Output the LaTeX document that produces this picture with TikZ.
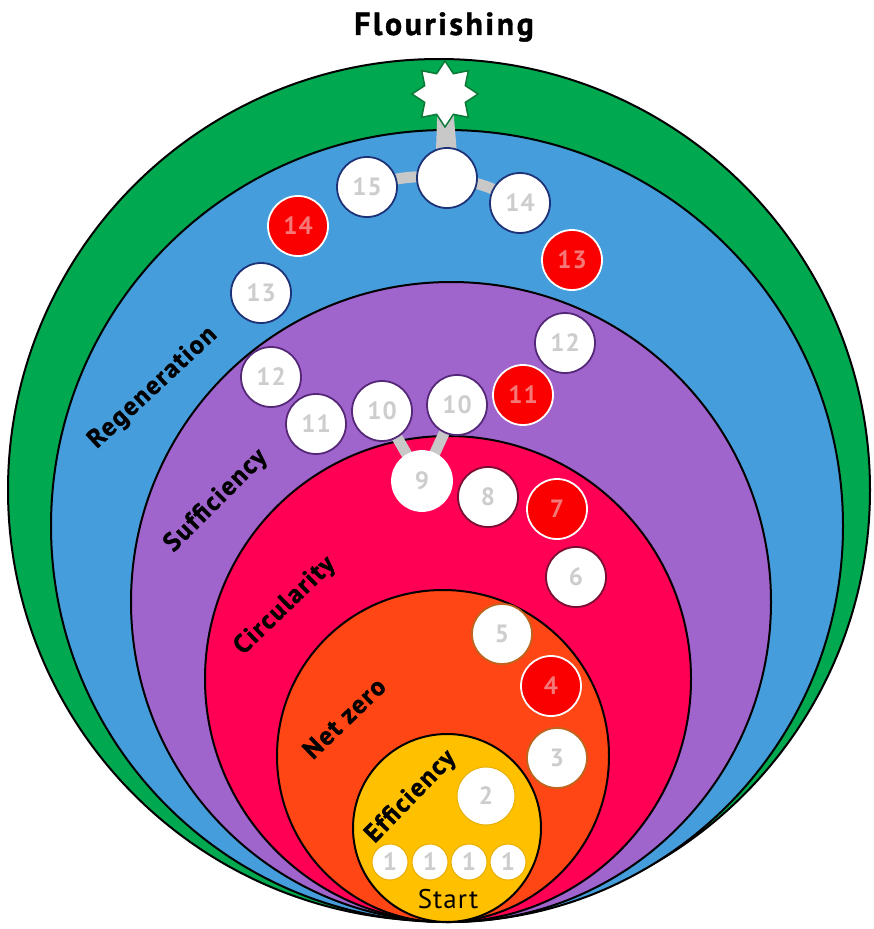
\documentclass[tikz,border=0pt]{standalone}
\usepackage{fontspec}
\setmainfont{PT Sans}
\newfontfamily\labfont[LetterSpace=6,BoldFeatures={FakeBold=1.2}]{PT Sans}
\newfontfamily\titfont[LetterSpace=8,BoldFeatures={FakeBold=1.2}]{PT Sans}
\newfontfamily\numfont[LetterSpace=4]{PT Sans}
\usetikzlibrary{shapes.geometric,calc}
\pgfdeclarelayer{back}
\pgfdeclarelayer{mid}
\pgfsetlayers{back,mid,main}
\definecolor{cgreen}{RGB}{0,168,80}
\definecolor{cblue}{RGB}{70,157,219}
\definecolor{cpurple}{RGB}{160,100,205}
\definecolor{cpink}{RGB}{255,0,85}
\definecolor{corange}{RGB}{255,70,20}
\definecolor{cyellow}{RGB}{255,192,0}
\definecolor{dotred}{RGB}{250,0,0}
\definecolor{numgray}{RGB}{205,205,205}
\definecolor{numred}{RGB}{245,120,120}
\definecolor{conngray}{RGB}{200,200,200}
\definecolor{navy}{RGB}{30,50,120}
\definecolor{dpurple}{RGB}{85,40,120}
\definecolor{maroon}{RGB}{120,15,50}
\definecolor{brownish}{RGB}{190,100,30}
\definecolor{gold}{RGB}{230,175,0}
\definecolor{stargreen}{RGB}{10,120,55}
\begin{document}
\begin{tikzpicture}[x=1pt,y=1pt,
  ring/.style={draw=black,line width=2pt},
  dot/.style={circle,minimum size=60pt,inner sep=0pt,fill=white,line width=1.8pt,
    font=\numfont\bfseries\fontsize{25}{27}\selectfont,text=numgray},
  bdot/.style={dot,draw=navy},
  pdot/.style={dot,draw=dpurple},
  mdot/.style={dot,draw=maroon},
  odot/.style={dot,draw=brownish},
  ydot/.style={dot,draw=gold,line width=1pt},
  reddot/.style={dot,fill=dotred,draw=white,text=numred},
  conn/.style={draw=conngray,line width=11pt},
  lab/.style={font=\labfont\bfseries\fontsize{26}{28}\selectfont,text=black}]
\useasboundingbox (0,0) rectangle (874,-929);
\begin{pgfonlayer}{back}
\fill[white] (0,0) rectangle (874,-929);
\filldraw[ring,fill=cgreen] (439,-490) circle (431);
\filldraw[ring,fill=cblue] (447,-526) circle (396);
\filldraw[ring,fill=cpurple] (451,-602) circle (320);
\filldraw[ring,fill=cpink] (448,-679) circle (243);
\filldraw[ring,fill=corange] (443,-756) circle (166);
\filldraw[ring,fill=cyellow] (447,-828) circle (94);
\end{pgfonlayer}

\node[font=\titfont\bfseries\fontsize{32}{34}\selectfont] (title) at (444,-27) {Flourishing};

\node[star,star points=8,star point ratio=1.5,minimum size=66pt,inner sep=0pt,
  fill=white,draw=stargreen,line width=1.5pt] (star) at (445,-94) {};

\node[bdot] (top) at (447,-178) {};
\node[bdot] (n15) at (367,-187) {15};
\node[bdot] (n14) at (520,-203) {14};
\node[reddot] (r14) at (298,-226) {14};
\node[reddot] (r13) at (572,-260) {13};
\node[bdot] (n13) at (261,-293) {13};
\node[pdot] (n12b) at (565,-343) {12};
\node[pdot] (n12a) at (271,-377) {12};
\node[pdot] (n11) at (316,-424) {11};
\node[pdot] (n10a) at (382,-411) {10};
\node[pdot] (n10b) at (457,-405) {10};
\node[reddot] (r11) at (523,-395) {11};
\node[mdot,draw=white] (n9) at (422,-481) {9};
\node[mdot] (n8) at (488,-497) {8};
\node[reddot] (r7) at (557,-509) {7};
\node[mdot] (n6) at (576,-577) {6};
\node[odot] (n5) at (502,-634) {5};
\node[reddot] (r4) at (551,-686) {4};
\node[odot] (n3) at (557,-758) {3};
\node[ydot,minimum size=58pt] (n2) at (486,-796) {2};
\node[ydot,minimum size=36pt] (a1) at (390,-862) {1};
\node[ydot,minimum size=36pt] (b1) at (430,-862) {1};
\node[ydot,minimum size=36pt] (c1) at (469,-862) {1};
\node[ydot,minimum size=36pt] (d1) at (508,-862) {1};

\node[font=\numfont\fontsize{27}{29}\selectfont] (start) at (448,-899) {Start};

\node[lab,rotate=43] (lreg) at (153,-388) {Regeneration};
\node[lab,rotate=45] (lsuf) at (216,-501) {Sufficiency};
\node[lab,rotate=44] (lcir) at (285,-606) {Circularity};
\node[lab,rotate=44] (lnet) at (344,-718) {Net zero};
\node[lab,rotate=46] (leff) at (411,-797) {Efficiency};

\begin{pgfonlayer}{mid}
\fill[conngray] ($(star.center)+(-7,0)$) -- ($(star.center)+(7,0)$)
  -- ($(top.center)+(12,0)$) -- ($(top.center)+(-12,0)$) -- cycle;
\draw[conn] (n15.center) to[bend left=12] (top.center) to[bend left=12] (n14.center);
\draw[conn] (n10a.center) -- (n9.center);
\draw[conn] (n10b.center) -- (n9.center);
\end{pgfonlayer}
\end{tikzpicture}
\end{document}
